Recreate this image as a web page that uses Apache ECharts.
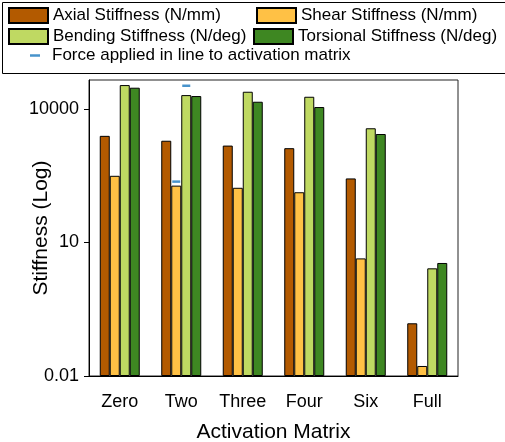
<!DOCTYPE html>
<html>
<head>
<meta charset="utf-8">
<script src="https://cdn.jsdelivr.net/npm/echarts@6/dist/echarts.min.js"></script>
<style>html,body{margin:0;padding:0;background:#fff;}#c{width:505px;height:442px;}</style>
</head>
<body>
<div id="c"></div>
<script>
const categories = ['Zero', 'Two', 'Three', 'Four', 'Six', 'Full'];
const axialStiffness = [2500, 1940, 1510, 1320, 276, 0.153];
const shearStiffness = [316, 190, 170, 135, 4.4, 0.0168];
const bendingStiffness = [34600, 20600, 24500, 18900, 3700, 2.63];
const torsionalStiffness = [30200, 19600, 14600, 11100, 2750, 3.47];
const markerCategories = ['Two', 'Two'];
const markerValues = [33400, 234];
const markerBarIndex = [2, 1];
const yTickValues = [0.01, 10, 10000];

const FONT = 'Liberation Sans, Arial, sans-serif';
const colors = ['#B35A00', '#FFC145', '#BFD962', '#3E8722'];
const names = ['Axial Stiffness (N/mm)', 'Shear Stiffness (N/mm)', 'Bending Stiffness (N/deg)', 'Torsional Stiffness (N/deg)'];
const markerName = 'Force applied in line to activation matrix';
const values = [axialStiffness, shearStiffness, bendingStiffness, torsionalStiffness];
const BAR_W = 10;

const barSeries = values.map((v, i) => ({
  name: names[i], type: 'bar', data: v, barWidth: BAR_W, barGap: '0%',
  itemStyle: { color: colors[i], borderColor: '#000', borderWidth: 1 }
}));
const markerSeries = {
  name: markerName, type: 'scatter', z: 5,
  data: markerCategories.map((c, i) => ({
    value: [c, markerValues[i]],
    symbolOffset: [(markerBarIndex[i] - 1.5) * BAR_W, 0]
  })),
  symbol: 'rect', symbolSize: [8, 2.5],
  itemStyle: { color: '#1A78BE' }
};

const legendText = { fontFamily: FONT, fontSize: 17, color: '#000' };
const legendPos = [[8, 7], [256, 7], [8, 28], [253, 28]];
const legends = names.map((n, i) => ({
  data: [n], left: legendPos[i][0], top: legendPos[i][1], padding: 0,
  itemWidth: 39, itemHeight: 15, itemGap: 0, textStyle: legendText,
  selectedMode: false, icon: 'rect'
}));
legends.push({
  data: [markerName], left: 30, top: 47, padding: 0,
  itemWidth: 10, itemHeight: 2.5, textStyle: Object.assign({ padding: [0, 0, 0, 7] }, legendText),
  selectedMode: false, icon: 'rect'
});

const chart = echarts.init(document.getElementById('c'), null, { renderer: 'canvas' });
chart.setOption({
  animation: false,
  backgroundColor: '#fff',
  graphic: [{
    type: 'rect', shape: { x: 2.5, y: 2.5, width: 510, height: 71 },
    style: { fill: 'none', stroke: '#000', lineWidth: 1 }, z: -1
  }],
  legend: legends,
  grid: { left: 89, top: 80, right: 47, bottom: 66, show: true, borderColor: '#222', borderWidth: 1,
    containLabel: false, outerBoundsMode: 'none' },
  xAxis: {
    type: 'category', data: categories,
    name: 'Activation Matrix', nameLocation: 'middle', nameGap: 46, nameMoveOverlap: false,
    nameTextStyle: { fontFamily: FONT, fontSize: 21, color: '#000' },
    axisLine: { lineStyle: { color: '#000', width: 1 } },
    axisTick: { alignWithLabel: true, length: 5, interval: 0, lineStyle: { color: '#000' } },
    axisLabel: { fontFamily: FONT, fontSize: 18, color: '#000', margin: 17, interval: 0 }
  },
  yAxis: {
    type: 'log', logBase: 10, min: 0.01, max: 45000, startValue: 0.01,
    name: 'Stiffness (Log)', nameLocation: 'middle', nameGap: 37, nameMoveOverlap: false,
    nameTextStyle: { fontFamily: FONT, fontSize: 21, color: '#000' },
    axisLine: { show: true, lineStyle: { color: '#000', width: 1 } },
    axisTick: { show: true, length: 5, lineStyle: { color: '#000' }, customValues: yTickValues },
    axisLabel: { fontFamily: FONT, fontSize: 18, color: '#000', margin: 10, customValues: yTickValues,
      formatter: v => String(v) },
    splitLine: { show: false }
  },
  series: barSeries.concat([markerSeries])
});
</script>
</body>
</html>
